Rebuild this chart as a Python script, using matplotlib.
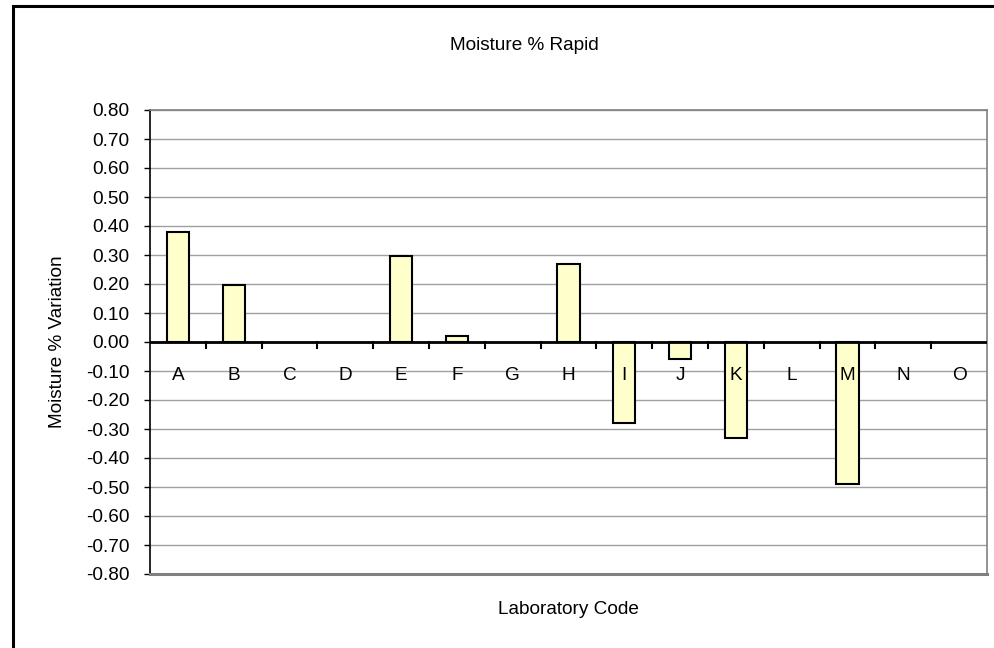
import matplotlib
matplotlib.use("Agg")
import matplotlib.pyplot as plt
from matplotlib.patches import Rectangle
import numpy as np

plt.rcParams['font.family'] = ['Liberation Sans', 'DejaVu Sans']

categories = ["A", "B", "C", "D", "E", "F", "G", "H", "I", "J", "K", "L", "M", "N", "O"]
values = [0.38, 0.195, np.nan, np.nan, 0.295, 0.02, np.nan, 0.27, -0.28, -0.06, -0.33, np.nan, -0.49, np.nan, np.nan]
yticks = [round(-0.8 + 0.1 * i, 2) for i in range(17)]
title = "Moisture % Rapid"
xlabel = "Laboratory Code"
ylabel = "Moisture % Variation"

FS = 13.7
W, H = 995, 648
fig = plt.figure(figsize=(W / 100, H / 100), dpi=100)

# outer chart border (extends beyond right/bottom edges)
fig.patches.append(Rectangle((13 / W, -0.1), 1.2, 1 - 6 / H + 0.1, transform=fig.transFigure,
                             fill=False, edgecolor='black', linewidth=2.2, zorder=0))

ax = fig.add_axes([150 / W, (H - 574) / H, (987 - 150) / W, (574 - 110) / H])
x = np.arange(len(categories))
ax.bar(x, values, width=0.4, color='#FFFFCC', edgecolor='black', linewidth=1.5, zorder=3)

ax.set_xlim(-0.5, len(categories) - 0.5)
ax.set_ylim(-0.8, 0.8)
ax.set_yticks(yticks)
ax.set_yticklabels([f"{v:.2f}" for v in yticks], fontsize=FS)
ax.yaxis.grid(True, color='#A0A0A0', linewidth=1, zorder=0)
ax.set_axisbelow(True)

# spines
for s in ['top', 'right']:
    ax.spines[s].set_color('#808080')
    ax.spines[s].set_linewidth(1.2)
ax.spines['left'].set_color('black')
ax.spines['left'].set_linewidth(1.2)
ax.spines['bottom'].set_visible(False)
ax.axhline(0, color='black', linewidth=2, zorder=4)
ax.axhline(-0.8, color='#808080', linewidth=2.2, zorder=4, clip_on=False)

# category ticks at boundaries along zero line, labels at centers below
ax.set_xticks(np.arange(len(categories) + 1) - 0.5)
ax.set_xticklabels([])
ax.tick_params(axis='x', which='major', length=0)
for b in np.arange(1, len(categories)) - 0.5:
    ax.plot([b, b], [0, -0.022], color='black', linewidth=1.5, zorder=4)
for xi, lab in zip(x, categories):
    ax.text(xi, -0.117, lab, ha='center', va='center', fontsize=FS, zorder=5)

ax.tick_params(axis='y', which='major', length=4.3, width=1, direction='out', pad=10.5, colors='black')

fig.text(524 / W, 1 - 45 / H, title, ha='center', va='center', fontsize=FS)
fig.text(568 / W, 1 - 609 / H, xlabel, ha='center', va='center', fontsize=FS)
fig.text(58 / W, 1 - 342 / H, ylabel, ha='center', va='center', rotation=90, fontsize=FS)

fig.savefig("out.png", dpi=100)
